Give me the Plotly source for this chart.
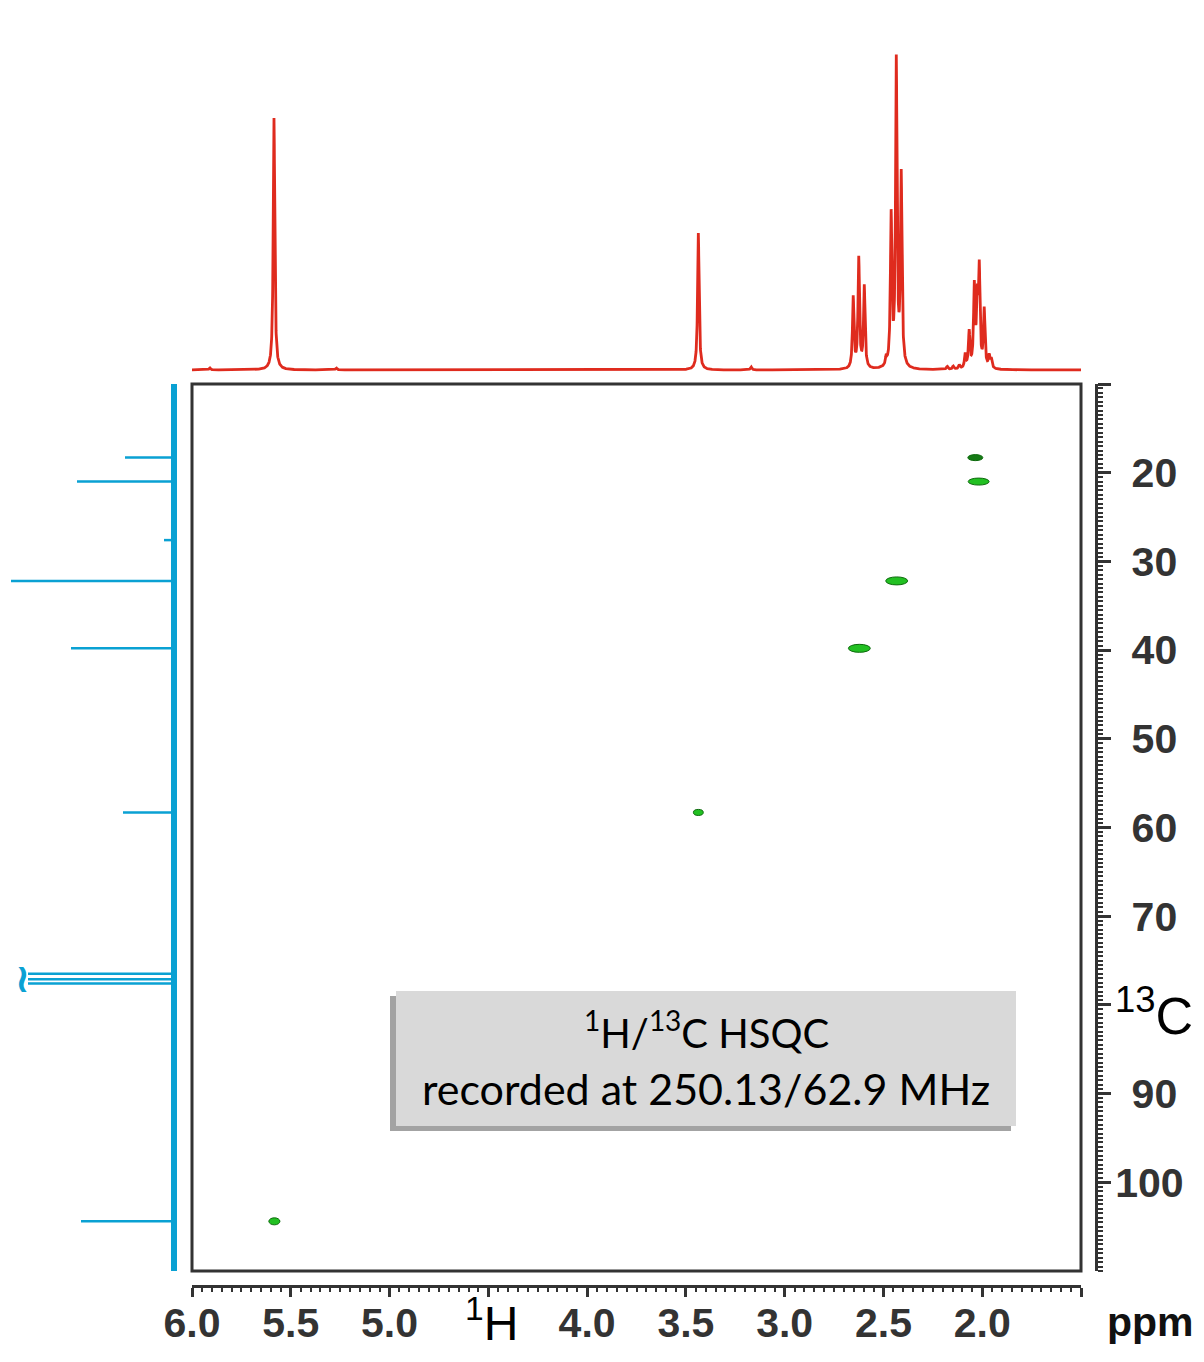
import numpy as np
import plotly.graph_objects as go

# ---------------- data ----------------
# 1H spectrum peak list (ppm, relative intensity)
h_ppm = [5.910, 5.585, 5.270, 3.437, 3.170,
         2.653, 2.625, 2.597,
         2.486, 2.461, 2.435, 2.410,
         2.177, 2.147, 2.116,
         2.086, 2.066, 2.040, 2.025, 2.015, 1.990, 1.965, 1.954]
h_int = [2, 252, 2, 137, 3,
         71, 110, 82,
         8, 150, 305, 190,
         3, 3, 4,
         14, 36, 80, 62, 95, 58, 12, 9]

# 13C spectrum peak list (ppm, relative intensity)
c_ppm = [18.3, 21.0, 27.6, 32.2, 39.8, 58.3, 76.5, 77.1, 77.6, 104.4]
c_int = [49, 97, 10, 163, 103, 51, 146, 146, 146, 93]

# HSQC cross peaks (1H ppm, 13C ppm, extent in 1H ppm, extent in 13C ppm)
x_h = [2.035, 2.018, 2.433, 2.622, 3.437, 5.583]
x_c = [18.3, 21.0, 32.2, 39.8, 58.3, 104.4]
x_wh = [0.076, 0.106, 0.111, 0.111, 0.050, 0.056]
x_wc = [0.68, 0.79, 0.90, 0.90, 0.68, 0.79]
x_dark = [True, False, False, False, False, False]

h_ticks = [6.0, 5.5, 5.0, 4.5, 4.0, 3.5, 3.0, 2.5, 2.0, 1.5]
h_ticktext = ["6.0", "5.5", "5.0", "", "4.0", "3.5", "3.0", "2.5", "2.0", ""]
c_ticks = [10, 20, 30, 40, 50, 60, 70, 80, 90, 100]
c_ticktext = ["", "20", "30", "40", "50", "60", "70", "", "90", "100"]

# ---------------- figure ----------------
OFF = 8                      # page body margin
W, H = 1204 - 2 * OFF, 1362 - 2 * OFF
def px(x): return (x - OFF) / W
def py(y): return 1 - (y - OFF) / H

RED = "#df2b1e"
BLUE = "#0aa1d3"
AX = "#333333"

# 1H line shape (Lorentzian sum of the read peak list)
grid = np.linspace(6.0, 1.5, 9001)
gam = 0.0045
spec = np.zeros_like(grid)
for p, a in zip(h_ppm, h_int):
    spec += a / (1 + ((grid - p) / gam) ** 2)

fig = go.Figure()
fig.add_trace(go.Scatter(x=grid, y=spec, mode="lines", xaxis="x", yaxis="y2",
                         line=dict(color=RED, width=2.8), hoverinfo="skip"))

# 13C spectrum: baseline + sticks
fig.add_trace(go.Scatter(x=[0, 0], y=[10, 110], mode="lines", xaxis="x3", yaxis="y",
                         line=dict(color=BLUE, width=6), hoverinfo="skip"))
sx, sy = [], []
for p, a in zip(c_ppm, c_int):
    sx += [0, a, None]
    sy += [p, p, None]
fig.add_trace(go.Scatter(x=sx, y=sy, mode="lines", xaxis="x3", yaxis="y",
                         line=dict(color=BLUE, width=2.5), hoverinfo="skip"))

# cross peaks
shapes = []
for h, c, wh, wc, dk in zip(x_h, x_c, x_wh, x_wc, x_dark):
    shapes.append(dict(type="circle", xref="x", yref="y",
                       x0=h - wh / 2, x1=h + wh / 2, y0=c - wc / 2, y1=c + wc / 2,
                       fillcolor="#157a15" if dk else "#22c022",
                       line=dict(color="#0c6a0c", width=1)))

# frame of 2D plot
shapes.append(dict(type="rect", xref="paper", yref="paper",
                   x0=px(192), x1=px(1081), y0=py(1271), y1=py(384),
                   line=dict(color=AX, width=3), fillcolor="rgba(0,0,0,0)"))
# label box with shadow
shapes.append(dict(type="rect", xref="paper", yref="paper",
                   x0=px(390), x1=px(1011), y0=py(1131), y1=py(996),
                   line=dict(width=0), fillcolor="#a3a3a3", layer="above"))
shapes.append(dict(type="rect", xref="paper", yref="paper",
                   x0=px(396), x1=px(1016), y0=py(1126), y1=py(991),
                   line=dict(width=0), fillcolor="#d9d9d9", layer="above"))

tickfont = dict(family="Liberation Sans", size=41, color=AX, weight="bold")
PAD = "\u2009\u2009"
c_ticktext_padded = [t if len(t) != 2 else PAD + t for t in c_ticktext]

fig.update_layout(
    width=W, height=H, margin=dict(l=0, r=0, t=0, b=0, pad=0, autoexpand=False),
    paper_bgcolor="white", plot_bgcolor="white", showlegend=False,
    xaxis=dict(domain=[px(192), px(1081)], range=[6.0, 1.5], anchor="free",
               position=py(1286), showgrid=False, zeroline=False, automargin=False,
               showline=True, linecolor=AX, linewidth=3,
               tickmode="array", tickvals=h_ticks, ticktext=h_ticktext,
               ticks="outside", ticklen=9, tickwidth=3, tickcolor=AX,
               tickfont=tickfont, ticklabelstandoff=-9,
               minor=dict(dtick=0.05, tick0=0, ticks="outside", ticklen=4,
                          tickwidth=2, tickcolor=AX, showgrid=False)),
    yaxis=dict(domain=[py(1271), py(384)], range=[110, 10], anchor="free",
               position=px(1096), side="right", showgrid=False, zeroline=False,
               automargin=False,
               showline=True, linecolor=AX, linewidth=3,
               tickmode="array", tickvals=c_ticks, ticktext=c_ticktext_padded,
               ticks="outside", ticklen=13, tickwidth=3, tickcolor=AX,
               tickfont=tickfont, ticklabelstandoff=-4,
               minor=dict(dtick=0.5, tick0=0, ticks="outside", ticklen=5,
                          tickwidth=2, tickcolor=AX, showgrid=False)),
    yaxis2=dict(domain=[py(380), py(30)], range=[-10, 340], visible=False,
                anchor="x", automargin=False),
    xaxis3=dict(domain=[0, px(190)], range=[166, -16],
                visible=False, anchor="y", automargin=False),
    shapes=shapes,
)

fig.add_annotation(xref="paper", yref="paper", x=px(706), y=py(1030),
                   text="<sup>1</sup>H/<sup>13</sup>C HSQC",
                   showarrow=False, xanchor="center", yanchor="middle",
                   font=dict(family="Lato", size=40, color="black"))
fig.add_annotation(xref="paper", yref="paper", x=px(706), y=py(1088),
                   text="recorded at 250.13/62.9 MHz",
                   showarrow=False, xanchor="center", yanchor="middle",
                   font=dict(family="Lato", size=43, color="black"))

fig.add_annotation(xref="paper", yref="paper", x=px(1195), y=py(1012),
                   text="<sup>13</sup>C", showarrow=False, xanchor="right", yanchor="middle",
                   font=dict(family="Liberation Sans", size=52, color="black"))
fig.add_annotation(xref="paper", yref="paper", x=px(463), y=py(1320),
                   text="<sup>1</sup>H", showarrow=False, xanchor="left", yanchor="middle",
                   font=dict(family="Liberation Sans", size=48, color="black"))
fig.add_annotation(xref="paper", yref="paper", x=px(1150), y=py(1322),
                   text="ppm", showarrow=False, xanchor="center", yanchor="middle",
                   font=dict(family="Liberation Sans", size=41, color="#111111", weight="bold"))
fig.add_annotation(xref="paper", yref="paper", x=px(22), y=py(978),
                   text="≀", showarrow=False, xanchor="center", yanchor="middle",
                   font=dict(family="DejaVu Sans", size=40, color=BLUE, weight="bold"))

fig.write_html("out.html")
